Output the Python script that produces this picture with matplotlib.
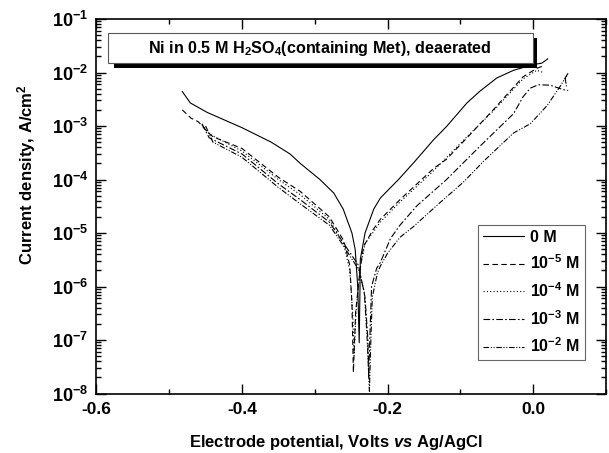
import numpy as np
import matplotlib.pyplot as plt
from matplotlib.patches import Rectangle
from matplotlib.ticker import FixedLocator, LogLocator, NullFormatter

plt.rcParams['font.family'] = 'Liberation Sans'
plt.rcParams['font.weight'] = 'bold'
plt.rcParams['mathtext.fontset'] = 'custom'
plt.rcParams['mathtext.rm'] = 'Liberation Sans:bold'
plt.rcParams['mathtext.bf'] = 'Liberation Sans:bold'
plt.rcParams['mathtext.it'] = 'Liberation Sans:italic:bold'
plt.rcParams['mathtext.default'] = 'regular'

# polarization curves: potential (V vs Ag/AgCl) and current density (A/cm2)
e_0 = [-0.482, -0.471, -0.448, -0.400, -0.360, -0.334, -0.320, -0.293, -0.274,
       -0.261, -0.249, -0.2445, -0.241, -0.239,
       -0.238, -0.2375, -0.231, -0.219, -0.210, -0.201, -0.185, -0.165, -0.137,
       -0.119, -0.091, -0.073, -0.050, -0.027, 0.000, 0.012, 0.020]
i_0 = [4.4e-3, 2.7e-3, 1.8e-3, 9.3e-4, 5.0e-4, 3.0e-4, 2.0e-4, 1.0e-4, 5.6e-5,
       2.8e-5, 1.0e-5, 4.9e-6, 1.0e-6, 8.9e-8,
       7.9e-7, 3.2e-6, 1.0e-5, 2.8e-5, 4.5e-5, 6.0e-5, 1.0e-4, 2.0e-4, 5.5e-4,
       9.8e-4, 2.7e-3, 4.5e-3, 7.9e-3, 1.1e-2, 1.4e-2, 1.5e-2, 1.8e-2]

e_5 = [-0.482, -0.470, -0.460, -0.448, -0.440, -0.400, -0.350, -0.320, -0.280,
       -0.260, -0.252, -0.249, -0.247,
       -0.244, -0.238, -0.233, -0.221, -0.210, -0.183, -0.137, -0.119, -0.091,
       -0.055, -0.014, 0.005, 0.012]
i_5 = [2.0e-3, 1.4e-3, 1.2e-3, 7.9e-4, 6.3e-4, 3.8e-4, 1.1e-4, 6.0e-5, 2.0e-5,
       7.1e-6, 2.5e-6, 5.0e-7, 2.5e-8,
       3.2e-7, 2.0e-6, 5.6e-6, 1.1e-5, 1.8e-5, 4.2e-5, 1.6e-4, 2.4e-4, 6.0e-4,
       2.0e-3, 8.3e-3, 1.2e-2, 1.3e-2]

e_4 = [-0.455, -0.445, -0.400, -0.350, -0.320, -0.280, -0.260, -0.252, -0.248,
       -0.246,
       -0.243, -0.237, -0.231, -0.210, -0.183, -0.137, -0.091, -0.055, -0.014,
       0.005, 0.014]
i_4 = [1.05e-3, 7.1e-4, 3.4e-4, 1.0e-4, 5.2e-5, 1.8e-5, 6.0e-6, 2.0e-6, 3.2e-7,
       5.4e-8,
       4.0e-7, 2.5e-6, 6.3e-6, 1.6e-5, 3.8e-5, 1.45e-4, 6.3e-4, 1.9e-3, 7.6e-3,
       1.1e-2, 1.0e-2]

e_3 = [-0.455, -0.445, -0.400, -0.350, -0.320, -0.280, -0.260, -0.240, -0.231,
       -0.227, -0.226,
       -0.224, -0.222, -0.215, -0.210, -0.196, -0.183, -0.160, -0.119, -0.073,
       -0.027, -0.014, -0.004, 0.007, 0.023, 0.041, 0.048]
i_3 = [1.1e-3, 6.0e-4, 3.0e-4, 8.3e-5, 4.2e-5, 1.6e-5, 6.3e-6, 2.5e-6, 6.3e-7,
       1.0e-7, 2.0e-8,
       1.6e-7, 1.0e-6, 2.2e-6, 2.8e-6, 7.9e-6, 1.4e-5, 3.2e-5, 1.0e-4, 4.2e-4,
       1.7e-3, 3.5e-3, 5.1e-3, 5.9e-3, 5.8e-3, 4.8e-3, 4.6e-3]

e_2 = [-0.450, -0.440, -0.400, -0.350, -0.320, -0.280, -0.260, -0.240, -0.232,
       -0.228, -0.225,
       -0.223, -0.221, -0.214, -0.210, -0.200, -0.183, -0.165, -0.130, -0.096,
       -0.068, -0.027, -0.004, 0.019, 0.037, 0.048, 0.044, 0.046]
i_2 = [1.0e-3, 5.0e-4, 2.6e-4, 7.1e-5, 3.5e-5, 1.4e-5, 5.6e-6, 2.1e-6, 7.9e-7,
       1.0e-7, 1.1e-8,
       1.0e-7, 6.3e-7, 1.8e-6, 2.4e-6, 4.2e-6, 8.3e-6, 1.3e-5, 3.5e-5, 8.9e-5,
       2.2e-4, 7.4e-4, 1.1e-3, 2.4e-3, 5.5e-3, 9.8e-3, 7.6e-3, 5.2e-3]

labels = ['0 M', r'10$^{-5}$ M', r'10$^{-4}$ M', r'10$^{-3}$ M', r'10$^{-2}$ M']
styles = ['-', (0, (5, 3)), (0, (1, 2)), (0, (6, 2, 1.5, 2)),
          (0, (5, 1.5, 1, 1.5, 1, 1.5))]
x_ticks = [-0.6, -0.4, -0.2, 0.0]
x_minor = [-0.5, -0.3, -0.1, 0.1]

W, H = 609, 453
fig = plt.figure(figsize=(W / 100, H / 100), dpi=100)
ax = fig.add_axes([96.4 / W, 1 - 393.5 / H, (606 - 96.4) / W, (393.5 - 19) / H])

curves = [(e_0, i_0), (e_5, i_5), (e_4, i_4), (e_3, i_3), (e_2, i_2)]
for (e, i), lab, ls in zip(curves, labels, styles):
    ax.semilogy(e, i, color='black', lw=0.8, ls=ls, label=lab)

ax.set_xlim(-0.6, 0.1)
ax.set_ylim(1e-8, 1e-1)
ax.xaxis.set_major_locator(FixedLocator(x_ticks))
ax.xaxis.set_minor_locator(FixedLocator(x_minor))
ax.set_xticklabels(['%.1f' % v for v in x_ticks])
ax.yaxis.set_major_locator(LogLocator(base=10, numticks=20))
ax.yaxis.set_minor_locator(LogLocator(base=10, subs=np.arange(2, 10), numticks=20))
ax.yaxis.set_minor_formatter(NullFormatter())

ax.tick_params(which='both', direction='in', top=True, right=True, width=1)
ax.tick_params(axis='x', labelsize=12.5)
ax.tick_params(axis='y', labelsize=13)
ax.tick_params(which='major', length=7, pad=6)
ax.tick_params(which='minor', length=3.5)
for sp in ax.spines.values():
    sp.set_linewidth(1.2)

fig.text(336 / W, 1 - 442 / H, r'Electrode potential, Volts $\mathit{vs}$ Ag/AgCl',
         ha='center', va='center', fontsize=12)
fig.text(27 / W, 1 - 175 / H, r'Current density, A/cm$^2$',
         ha='center', va='center', rotation=90, fontsize=12)

# title box with a solid drop shadow
shadow = Rectangle((114 / W, 1 - 67.5 / H), (537 - 114) / W, (67.5 - 38) / H,
                   transform=fig.transFigure, fc='black', ec='none', zorder=5)
box = Rectangle((108 / W, 1 - 62.7 / H), (533 - 108) / W, (62.7 - 33.3) / H,
                transform=fig.transFigure, fc='white', ec='0.35', lw=0.8, zorder=6)
fig.add_artist(shadow)
fig.add_artist(box)
fig.text(320 / W, 1 - 48 / H, r'Ni in 0.5 M H$_2$SO$_4$(containing Met), deaerated',
         ha='center', va='center', fontsize=11.6, zorder=7)

leg = ax.legend(loc='upper right', bbox_to_anchor=(0.959, 0.45), fontsize=11.5,
                frameon=True, fancybox=False, edgecolor='0.4', framealpha=1,
                handlelength=2.6, handletextpad=0.4, labelspacing=0.56,
                borderpad=0.3, borderaxespad=0)
leg.get_frame().set_linewidth(0.8)

fig.savefig('out.png', dpi=100)
